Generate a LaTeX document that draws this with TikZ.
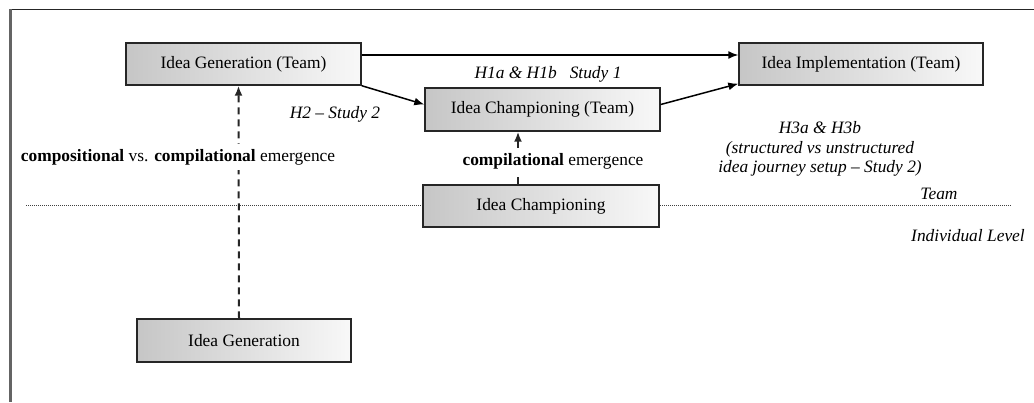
\documentclass[tikz,border=0pt]{standalone}
\usepackage{fontspec}
\setmainfont{Liberation Serif}
\usetikzlibrary{arrows.meta}
\definecolor{boxleft}{RGB}{198,198,198}
\definecolor{boxright}{RGB}{248,248,248}
\definecolor{framegray}{RGB}{100,100,100}
\tikzset{
  conbox/.style={draw=black!85, line width=1.4pt, left color=boxleft, right color=boxright,
    minimum height=42pt, inner sep=0pt, font=\fontsize{17.4}{20}\selectfont},
  conarrow/.style={line width=1.5pt, -{Latex[length=10pt,width=8pt]}},
  emarrow/.style={line width=2pt, black!85, dash pattern=on 7pt off 5pt, -{Latex[length=10pt,width=8pt]}},
  lbl/.style={font=\fontsize{17.4}{20}\selectfont\itshape, inner sep=2pt},
  emlbl/.style={font=\fontsize{17.4}{20}\selectfont, fill=white, inner xsep=2pt, inner ysep=5pt},
}
\begin{document}
\begin{tikzpicture}[x=1pt,y=-1pt]
\useasboundingbox (0,0) rectangle (1034,402);
% frame
\draw[line width=1.5pt, black!85] (9,9.5) -- (1034,9.5);
\draw[line width=2.6pt, framegray] (10.3,9) -- (10.3,402);
% level separator
\coordinate (sepL) at (26,205);
\coordinate (sepR) at (1012,205);
\draw[black!75, line width=0.9pt, dash pattern=on 1pt off 1pt] (sepL) -- (sepR);
% boxes
\node[conbox, minimum width=235pt] (genT) at (243.5,64) {Idea Generation (Team)};
\node[conbox, minimum width=244pt] (impl) at (861,64) {Idea Implementation (Team)};
\node[conbox, minimum width=235pt, minimum height=43pt] (champT) at (542.5,109.5) {Idea Championing (Team)};
\node[conbox, minimum width=236pt] (champ) at (541,206) {Idea Championing};
\node[conbox, minimum width=214pt, minimum height=43pt] (gen) at (244,340.5) {Idea Generation};
% solid arrows
\draw[conarrow] ([yshift=9pt]genT.east) -- ([yshift=9pt]impl.west);
\draw[conarrow] (genT.south east) -- ([yshift=5pt]champT.west);
\draw[conarrow] ([yshift=5pt]champT.east) -- ([yshift=2pt]impl.south west);
% dashed emergence arrows
\draw[emarrow] ([xshift=-5pt]gen.north) -- ([xshift=-5pt]genT.south);
\draw[emarrow] ([xshift=-23pt]champ.north) -- ([xshift=-23pt]champ.north |- champT.south);
% labels
\node[emlbl] (comp) at (178,157) {\textbf{compositional} vs. \textbf{compilational} emergence};
\node[emlbl] (cemlabel) at (553,161) {\textbf{compilational} emergence};
\node[lbl] (h1) at (548,74) {H1a \& H1b \ \ Study 1};
\node[lbl] (h2) at (335,114) {H2 -- Study 2};
\node[lbl, align=center, font=\fontsize{17.4}{19.5}\selectfont\itshape] (h3) at (820,149) {H3a \& H3b\\(structured vs unstructured\\idea journey setup -- Study 2)};
\node[lbl] (team) at (939,194) {Team};
\node[lbl] (indiv) at (968,236) {Individual Level};
\end{tikzpicture}
\end{document}
